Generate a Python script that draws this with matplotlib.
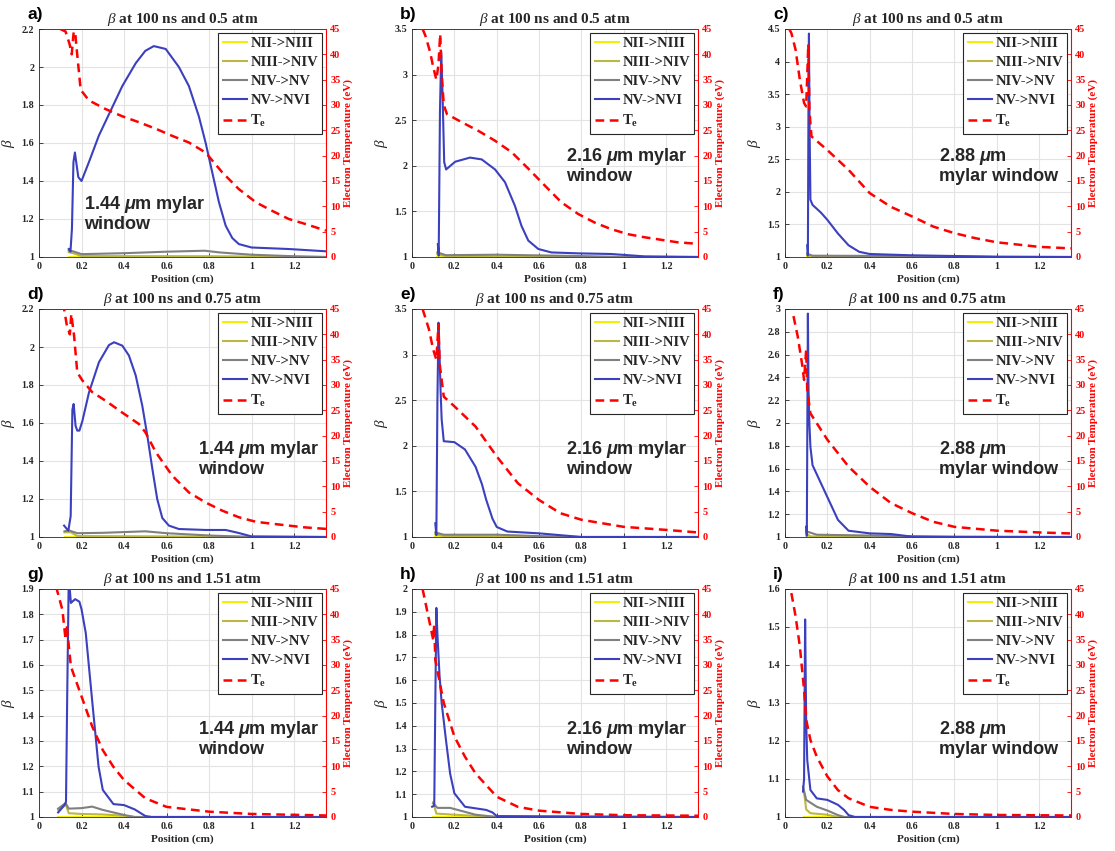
import matplotlib
matplotlib.use('Agg')
import numpy as np
import matplotlib.pyplot as plt
from matplotlib.ticker import FuncFormatter

plt.rcParams['font.family'] = ['Liberation Serif', 'DejaVu Serif']
plt.rcParams['mathtext.fontset'] = 'custom'
plt.rcParams['mathtext.rm'] = 'Liberation Serif:bold'
plt.rcParams['mathtext.bf'] = 'Liberation Serif:bold'
plt.rcParams['mathtext.it'] = 'Liberation Serif:italic'
plt.rcParams['mathtext.sf'] = 'Liberation Sans:italic:bold'

# ---------------- data ----------------
# panel a : 0.5 atm, 1.44 um
a_nii_x = [0.14, 1.35]; a_nii = [1.0, 1.0]
a_niii_x = [0.14, 0.16, 0.20, 0.80, 1.35]; a_niii = [1.025, 1.02, 1.005, 1.004, 1.0]
a_niv_x = [0.14, 0.16, 0.20, 0.40, 0.60, 0.78, 0.85, 1.0, 1.2, 1.35]
a_niv = [1.035, 1.03, 1.015, 1.02, 1.028, 1.033, 1.024, 1.012, 1.004, 1.0]
a_nv_x = [0.14, 0.148, 0.155, 0.162, 0.169, 0.175, 0.185, 0.20, 0.235, 0.282, 0.337, 0.392,
          0.455, 0.50, 0.54, 0.596, 0.658, 0.705, 0.752, 0.784, 0.815, 0.846, 0.878, 0.909,
          0.94, 1.0, 1.175, 1.35]
a_nv = [1.042, 1.028, 1.15, 1.50, 1.55, 1.50, 1.42, 1.40, 1.50, 1.64, 1.77, 1.90,
        2.02, 2.085, 2.11, 2.095, 2.0, 1.90, 1.74, 1.60, 1.445, 1.29, 1.165, 1.10,
        1.068, 1.05, 1.042, 1.03]
a_te_x = [0.10, 0.125, 0.144, 0.154, 0.16, 0.167, 0.175, 0.196, 0.235, 0.313, 0.39, 0.47, 0.55,
          0.627, 0.705, 0.784, 0.862, 0.94, 1.02, 1.097, 1.175, 1.254, 1.35]
a_te = [45.0, 44.5, 42.0, 40.0, 43.0, 46.0, 42.0, 33.0, 30.9, 29.2, 27.8, 26.6, 25.3,
        23.9, 22.6, 20.6, 16.7, 13.4, 10.8, 9.1, 7.5, 6.5, 5.2]

# panel b : 0.5 atm, 2.16 um
b_nii_x = [0.12, 1.35]; b_nii = [1.0, 1.0]
b_niii_x = [0.12, 0.16, 0.60, 1.35]; b_niii = [1.03, 1.01, 1.0, 1.0]
b_niv_x = [0.12, 0.16, 0.40, 0.80, 1.0, 1.35]; b_niv = [1.05, 1.02, 1.025, 1.01, 1.0, 1.0]
b_nv_x = [0.122, 0.126, 0.132, 0.138, 0.144, 0.152, 0.161, 0.204, 0.274, 0.329, 0.392, 0.439,
          0.486, 0.517, 0.549, 0.596, 0.658, 0.784, 0.94, 1.097, 1.35]
b_nv = [1.14, 1.015, 2.6, 3.25, 2.8, 2.04, 1.96, 2.045, 2.09, 2.07, 1.96, 1.82,
        1.56, 1.34, 1.18, 1.088, 1.05, 1.04, 1.033, 1.007, 1.0]
b_te_x = [0.05, 0.063, 0.086, 0.10, 0.115, 0.125, 0.133, 0.14, 0.15, 0.165, 0.235, 0.313,
          0.39, 0.47, 0.55, 0.627, 0.705, 0.784, 0.862, 0.94, 1.02, 1.097, 1.254, 1.35]
b_te = [45.0, 43.7, 40.4, 37.5, 35.0, 38.0, 44.0, 36.0, 30.0, 28.2, 26.6, 24.9,
        23.0, 20.7, 17.4, 14.1, 10.8, 8.5, 6.8, 5.5, 4.5, 3.9, 2.9, 2.6]

# panel c : 0.5 atm, 2.88 um
c_nii_x = [0.105, 1.35]; c_nii = [1.0, 1.0]
c_niii_x = [0.105, 0.13, 0.50, 1.35]; c_niii = [1.03, 1.01, 1.0, 1.0]
c_niv_x = [0.105, 0.13, 0.60, 1.0, 1.35]; c_niv = [1.05, 1.02, 1.015, 1.0, 1.0]
c_nv_x = [0.105, 0.108, 0.111, 0.113, 0.116, 0.12, 0.13, 0.14, 0.17, 0.20, 0.25, 0.30, 0.35,
          0.40, 0.60, 0.80, 1.00, 1.35]
c_nv = [1.18, 1.02, 3.5, 4.43, 3.0, 1.88, 1.80, 1.77, 1.68, 1.57, 1.36, 1.18, 1.08,
        1.046, 1.026, 1.015, 1.005, 1.0]
c_te_x = [0.02, 0.03, 0.05, 0.07, 0.09, 0.10, 0.11, 0.115, 0.125, 0.20, 0.30, 0.40, 0.50, 0.60,
          0.70, 0.80, 0.90, 1.00, 1.20, 1.35]
c_te = [45.0, 44.2, 40.9, 35.0, 30.4, 29.7, 42.0, 29.0, 23.8, 21.1, 17.2, 12.6, 9.9, 8.0,
        6.0, 4.7, 3.7, 2.9, 2.0, 1.7]

# panel d : 0.75 atm, 1.44 um
d_nii_x = [0.12, 1.35]; d_nii = [1.0, 1.0]
d_niii_x = [0.12, 0.15, 0.18, 0.60, 1.35]; d_niii = [1.025, 1.025, 1.005, 1.003, 1.0]
d_niv_x = [0.12, 0.14, 0.18, 0.30, 0.50, 0.60, 0.80, 1.0, 1.35]
d_niv = [1.03, 1.035, 1.02, 1.022, 1.03, 1.02, 1.008, 1.0, 1.0]
d_nv_x = [0.118, 0.138, 0.149, 0.157, 0.163, 0.172, 0.18, 0.19, 0.204, 0.235, 0.282, 0.329,
          0.353, 0.392, 0.423, 0.455, 0.486, 0.51, 0.533, 0.556, 0.58, 0.611, 0.658, 0.784,
          0.878, 0.94, 1.0, 1.35]
d_nv = [1.06, 1.033, 1.11, 1.67, 1.70, 1.585, 1.56, 1.56, 1.61, 1.76, 1.92, 2.01,
        2.025, 2.007, 1.955, 1.85, 1.69, 1.53, 1.36, 1.20, 1.10, 1.06, 1.042, 1.037,
        1.037, 1.021, 1.003, 1.0]
d_te_x = [0.10, 0.118, 0.13, 0.145, 0.152, 0.158, 0.165, 0.18, 0.204, 0.25, 0.313, 0.39, 0.47,
          0.50, 0.55, 0.627, 0.705, 0.784, 0.862, 0.94, 1.02, 1.10, 1.25, 1.35]
d_te = [46.0, 45.0, 42.0, 40.0, 44.0, 42.0, 39.7, 32.5, 30.9, 28.6, 26.9, 24.6, 22.3,
        20.7, 16.7, 12.1, 8.8, 6.8, 5.2, 3.9, 3.0, 2.6, 1.9, 1.6]

# panel e : 0.75 atm, 2.16 um
e_nii_x = [0.11, 1.35]; e_nii = [1.0, 1.0]
e_niii_x = [0.11, 0.15, 0.60, 1.35]; e_niii = [1.03, 1.01, 1.0, 1.0]
e_niv_x = [0.11, 0.15, 0.40, 0.60, 0.80, 1.35]; e_niv = [1.05, 1.025, 1.025, 1.01, 1.0, 1.0]
e_nv_x = [0.11, 0.115, 0.12, 0.125, 0.13, 0.135, 0.14, 0.15, 0.20, 0.25, 0.30, 0.33, 0.35,
          0.38, 0.40, 0.45, 0.60, 0.70, 0.80, 1.35]
e_nv = [1.15, 1.02, 2.5, 3.35, 3.0, 2.6, 2.29, 2.05, 2.04, 1.96, 1.77, 1.58, 1.41,
        1.2, 1.11, 1.06, 1.04, 1.02, 1.0, 1.0]
e_te_x = [0.05, 0.08, 0.10, 0.115, 0.125, 0.13, 0.15, 0.20, 0.30, 0.40, 0.50, 0.60, 0.70,
          0.80, 1.00, 1.20, 1.35]
e_te = [45.0, 41.0, 37.0, 35.0, 42.0, 34.3, 27.7, 25.8, 21.8, 15.9, 10.6, 7.3, 4.7,
        3.4, 2.0, 1.4, 0.9]

# panel f : 0.75 atm, 2.88 um
f_nii_x = [0.10, 1.35]; f_nii = [1.0, 1.0]
f_niii_x = [0.10, 0.12, 0.50, 1.35]; f_niii = [1.03, 1.005, 1.0, 1.0]
f_niv_x = [0.10, 0.15, 0.50, 0.80, 1.35]; f_niv = [1.05, 1.02, 1.01, 1.0, 1.0]
f_nv_x = [0.10, 0.103, 0.106, 0.108, 0.111, 0.115, 0.12, 0.13, 0.20, 0.25, 0.30, 0.40, 0.50,
          0.60, 1.35]
f_nv = [1.09, 1.01, 2.2, 2.96, 2.3, 2.0, 1.79, 1.63, 1.35, 1.15, 1.055, 1.032, 1.026,
        1.003, 1.0]
f_te_x = [0.04, 0.06, 0.08, 0.09, 0.10, 0.105, 0.12, 0.20, 0.30, 0.40, 0.50, 0.60, 0.70, 0.80,
          1.00, 1.20, 1.35]
f_te = [43.6, 39.6, 34.3, 31.0, 37.0, 29.0, 24.4, 19.2, 13.9, 9.9, 6.7, 4.7, 3.0, 2.0,
        1.25, 0.9, 0.7]

# panel g : 1.51 atm, 1.44 um
g_nii_x = [0.09, 1.35]; g_nii = [1.0, 1.0]
g_niii_x = [0.09, 0.125, 0.14, 0.20, 0.30, 0.40, 0.45, 1.35]
g_niii = [1.028, 1.05, 1.015, 1.012, 1.01, 1.005, 1.0, 1.0]
g_niv_x = [0.09, 0.125, 0.14, 0.20, 0.25, 0.30, 0.40, 0.45, 1.35]
g_niv = [1.033, 1.055, 1.033, 1.035, 1.041, 1.028, 1.008, 1.0, 1.0]
g_nv_x = [0.09, 0.12, 0.127, 0.133, 0.14, 0.15, 0.17, 0.19, 0.20, 0.22, 0.25, 0.28, 0.30,
          0.35, 0.40, 0.45, 0.50, 0.53, 1.35]
g_nv = [1.018, 1.047, 1.06, 1.5, 1.95, 1.845, 1.86, 1.85, 1.82, 1.726, 1.46, 1.2, 1.107,
        1.051, 1.047, 1.03, 1.004, 1.0, 1.0]
g_te_x = [0.08, 0.11, 0.12, 0.125, 0.13, 0.15, 0.20, 0.25, 0.30, 0.35, 0.40, 0.50, 0.60, 0.80,
          1.00, 1.35]
g_te = [45.5, 40.9, 37.0, 35.0, 38.0, 29.7, 23.8, 17.9, 13.2, 9.9, 7.3, 3.7, 2.0, 1.05,
        0.6, 0.3]

# panel h : 1.51 atm, 2.16 um
h_nii_x = [0.10, 1.35]; h_nii = [1.0, 1.0]
h_niii_x = [0.10, 0.115, 0.20, 0.30, 0.40, 1.35]; h_niii = [1.065, 1.015, 1.01, 1.005, 1.0, 1.0]
h_niv_x = [0.10, 0.12, 0.18, 0.30, 0.40, 1.35]; h_niv = [1.06, 1.04, 1.04, 1.01, 1.0, 1.0]
h_nv_x = [0.095, 0.105, 0.11, 0.115, 0.12, 0.13, 0.14, 0.16, 0.18, 0.20, 0.25, 0.30, 0.35,
          0.38, 0.40, 1.35]
h_nv = [1.045, 1.05, 1.5, 1.917, 1.80, 1.62, 1.50, 1.34, 1.19, 1.104, 1.045, 1.038, 1.031,
        1.02, 1.004, 1.0]
h_te_x = [0.05, 0.08, 0.10, 0.105, 0.11, 0.15, 0.20, 0.25, 0.30, 0.40, 0.50, 0.60, 0.80,
          1.00, 1.35]
h_te = [45.0, 39.0, 35.0, 38.0, 31.0, 22.5, 15.9, 11.9, 8.6, 4.0, 2.0, 1.25, 0.6,
        0.35, 0.25]

# panel i : 1.51 atm, 2.88 um
i_nii_x = [0.09, 1.35]; i_nii = [1.0, 1.0]
i_niii_x = [0.09, 0.10, 0.12, 0.20, 0.25, 1.35]; i_niii = [1.065, 1.02, 1.01, 1.006, 1.0, 1.0]
i_niv_x = [0.085, 0.10, 0.15, 0.20, 0.25, 0.28, 1.35]; i_niv = [1.08, 1.045, 1.027, 1.017, 1.005, 1.0, 1.0]
i_nv_x = [0.085, 0.09, 0.095, 0.10, 0.105, 0.12, 0.15, 0.20, 0.25, 0.28, 0.30, 0.33, 1.35]
i_nv = [1.067, 1.1, 1.52, 1.25, 1.15, 1.071, 1.049, 1.045, 1.032, 1.018, 1.005, 1.0, 1.0]
i_te_x = [0.03, 0.05, 0.07, 0.09, 0.10, 0.12, 0.15, 0.20, 0.25, 0.30, 0.40, 0.50, 0.60,
          0.80, 1.00, 1.35]
i_te = [44.2, 39.6, 33.7, 25.1, 19.2, 15.2, 11.9, 8.0, 5.3, 3.7, 2.0, 1.4, 1.05,
        0.6, 0.4, 0.3]

# axis definitions
panel_letters = ['a', 'b', 'c', 'd', 'e', 'f', 'g', 'h', 'i']
pressures = ['0.5', '0.5', '0.5', '0.75', '0.75', '0.75', '1.51', '1.51', '1.51']
windows = ['1.44 $\\mathsf{\\mu}$m mylar\nwindow', '2.16 $\\mathsf{\\mu}$m mylar\nwindow',
           '2.88 $\\mathsf{\\mu}$m\nmylar window'] * 3
ymax = [2.2, 3.5, 4.5, 2.2, 3.5, 3.0, 1.9, 2.0, 1.6]
ystep = [0.2, 0.5, 0.5, 0.2, 0.5, 0.2, 0.1, 0.1, 0.1]
xticks = [0, 0.2, 0.4, 0.6, 0.8, 1.0, 1.2]
te_ticks = [0, 5, 10, 15, 20, 25, 30, 35, 40, 45]
series_labels = ['NII->NIII', 'NIII->NIV', 'NIV->NV', 'NV->NVI', r'$\mathbf{T_e}$']

panels = [
    (a_nii_x, a_nii, a_niii_x, a_niii, a_niv_x, a_niv, a_nv_x, a_nv, a_te_x, a_te),
    (b_nii_x, b_nii, b_niii_x, b_niii, b_niv_x, b_niv, b_nv_x, b_nv, b_te_x, b_te),
    (c_nii_x, c_nii, c_niii_x, c_niii, c_niv_x, c_niv, c_nv_x, c_nv, c_te_x, c_te),
    (d_nii_x, d_nii, d_niii_x, d_niii, d_niv_x, d_niv, d_nv_x, d_nv, d_te_x, d_te),
    (e_nii_x, e_nii, e_niii_x, e_niii, e_niv_x, e_niv, e_nv_x, e_nv, e_te_x, e_te),
    (f_nii_x, f_nii, f_niii_x, f_niii, f_niv_x, f_niv, f_nv_x, f_nv, f_te_x, f_te),
    (g_nii_x, g_nii, g_niii_x, g_niii, g_niv_x, g_niv, g_nv_x, g_nv, g_te_x, g_te),
    (h_nii_x, h_nii, h_niii_x, h_niii, h_niv_x, h_niv, h_nv_x, h_nv, h_te_x, h_te),
    (i_nii_x, i_nii, i_niii_x, i_niii, i_niv_x, i_niv, i_nv_x, i_nv, i_te_x, i_te),
]

# ---------------- style ----------------
COLORS = ['#F5F000', '#BDB845', '#808080', '#3B40BE']
RED = '#FF0000'
DARK = '#262626'
W, H = 1115, 851
col_left = [39, 412, 785]
col_w = [287, 286, 286]
row_top = [29, 309, 589]
ax_h = 228
ann_pos = [(0.157, 0.19), (0.54, 0.40), (0.54, 0.40),
           (0.555, 0.345), (0.54, 0.345), (0.54, 0.345),
           (0.555, 0.345), (0.54, 0.345), (0.54, 0.345)]

fmt = FuncFormatter(lambda v, _: f'{v:g}')

fig = plt.figure(figsize=(W / 100, H / 100), dpi=100)

for k, p in enumerate(panels):
    r, c = divmod(k, 3)
    rect = [col_left[c] / W, 1 - (row_top[r] + ax_h) / H, col_w[c] / W, ax_h / H]
    ax = fig.add_axes(rect)
    handles = []
    for s in range(4):
        ln, = ax.plot(p[2 * s], p[2 * s + 1], color=COLORS[s], lw=1.5, zorder=3 + s)
        handles.append(ln)
    ax.set_xlim(0, 1.35)
    ax.set_ylim(1, ymax[k])
    ax.set_xticks(xticks)
    ax.set_yticks(np.arange(1, ymax[k] + ystep[k] / 2, ystep[k]))
    ax.xaxis.set_major_formatter(fmt)
    ax.yaxis.set_major_formatter(fmt)
    ax.grid(True, color='#e3e3e3', lw=0.8)
    ax.set_axisbelow(True)
    ax.tick_params(direction='in', length=3, width=0.6, labelsize=7.2, colors=DARK, pad=3.5)
    for lab in ax.get_xticklabels() + ax.get_yticklabels():
        lab.set_fontweight('bold')
    for sp in ax.spines.values():
        sp.set_color(DARK)
        sp.set_linewidth(0.6)
    ax.set_xlabel('Position (cm)', fontsize=8, fontweight='bold', color=DARK, labelpad=2.5)
    ax.set_ylabel(r'$\beta$', fontsize=11, color=DARK, labelpad=3)
    ax.set_title(r'$\beta$ at 100 ns and ' + pressures[k] + ' atm', fontsize=11,
                 fontweight='bold', color=DARK, pad=4)

    ax2 = ax.twinx()
    te_ln, = ax2.plot(p[8], p[9], color=RED, lw=1.8, ls='--', dashes=(3.5, 2.2), zorder=5)
    handles.append(te_ln)
    ax2.set_ylim(0, 45)
    ax2.set_yticks(te_ticks)
    ax2.tick_params(direction='in', length=3, width=0.6, labelsize=7.4, colors=RED, pad=3)
    for lab in ax2.get_yticklabels():
        lab.set_fontweight('bold')
    ax2.spines['right'].set_color(RED)
    ax2.spines['right'].set_linewidth(0.8)
    for nm in ('left', 'top', 'bottom'):
        ax2.spines[nm].set_visible(False)
    ax2.set_ylabel('Electron Temperature (eV)', fontsize=8, fontweight='bold', color=RED,
                   labelpad=2)

    leg = ax2.legend(handles, series_labels, loc='upper right',
                     prop={'weight': 'bold', 'size': 10.5}, frameon=True, fancybox=False,
                     edgecolor=DARK, framealpha=1, borderaxespad=0.25, borderpad=0.3,
                     labelspacing=0.4, handlelength=1.7, handletextpad=0.2)
    leg.get_frame().set_linewidth(0.8)
    for t in leg.get_texts():
        t.set_color(DARK)
    leg.set_zorder(20)

    ax2.text(ann_pos[k][0], ann_pos[k][1], windows[k], transform=ax.transAxes,
             fontsize=13, fontweight='bold', family='Liberation Sans', color=DARK,
             ha='left', va='center', linespacing=1.1, zorder=15)

    fig.text((col_left[c] - 12) / W, 1 - (row_top[r] - 14) / H, panel_letters[k] + ')',
             fontsize=12.5, fontweight='bold', family='Liberation Sans', color='black',
             ha='left', va='center')

fig.savefig('out.png', dpi=100)
